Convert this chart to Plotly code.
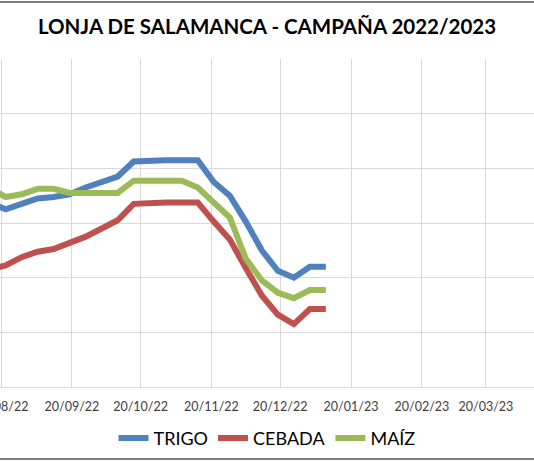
import pandas as pd
import plotly.graph_objects as go

# precios semanales (€/t)
fechas = pd.date_range("2022-08-15", "2023-01-09", freq="7D")

trigo = [327.5, 325, 327, 329, 329.5, 330.5, 333, 335, 337, 342.5, 343, 343, 343, 343,
         335, 330, 320.5, 310, 302.5, 300, 304, 304]
cebada = [303, 304.5, 307.5, 309.5, 310.5, 312.5, 315, 318, 321, 327, 327.5, 327.5, 327.5, 327.5,
          320.5, 314, 303.5, 293.5, 286.5, 283, 288.5, 288.5]
maiz = [333, 329.5, 330.5, 332.5, 332.5, 331, 331, 331, 331, 335.5, 335.5, 335.5, 335.5, 333,
        327.5, 322, 307, 299, 294.5, 292.5, 295.5, 295.5]

series = [("TRIGO", trigo, "#4F81BD"), ("CEBADA", cebada, "#C0504D"), ("MAÍZ", maiz, "#9BBB59")]

fig = go.Figure()
for nombre, valores, color in series:
    fig.add_trace(go.Scatter(x=fechas, y=valores, name=nombre, mode="lines",
                             line=dict(color=color, width=6)))

fig.update_layout(
    width=534, height=462,
    margin=dict(l=0, r=0, t=59, b=75, autoexpand=False),
    paper_bgcolor="white", plot_bgcolor="white",
    font=dict(family="Lato", color="#404040"),
    title=dict(text="<b>LONJA DE SALAMANCA - CAMPAÑA 2022/2023</b>", x=0.5, xanchor="center",
               y=0.943, yanchor="middle", font=dict(size=20.5, color="black")),
    legend=dict(orientation="h", x=0.5, xanchor="center", y=-0.1, yanchor="top",
                font=dict(size=18, color="black"), itemwidth=30),
    showlegend=True,
)

fig.update_xaxes(type="date", range=["2022-08-19 13:00", "2023-04-10"],
                 tick0="2022-08-20", dtick="M1", tickformat="%d/%m/%y",
                 showgrid=True, gridcolor="#d9d9d9", gridwidth=1,
                 showline=True, linecolor="#d9d9d9", linewidth=1, automargin=False,
                 ticks="", ticklabelstandoff=8, ticklabeloverflow="allow",
                 tickfont=dict(size=12.5, color="#404040"))
fig.update_yaxes(range=[260, 380], dtick=20, showgrid=True, gridcolor="#d9d9d9", gridwidth=1,
                 zeroline=False, showticklabels=False, automargin=False)

# bordes del área del gráfico (arriba y abajo)
fig.add_shape(type="line", xref="paper", yref="paper", x0=0, x1=1, y0=1.174, y1=1.174,
              line=dict(color="#7f7f7f", width=2))
fig.add_shape(type="line", xref="paper", yref="paper", x0=0, x1=1, y0=-0.2195, y1=-0.2195,
              line=dict(color="#7f7f7f", width=2))

fig.write_html("out.html", config={"displayModeBar": False},
               post_script="document.body.style.margin = '0px';")
